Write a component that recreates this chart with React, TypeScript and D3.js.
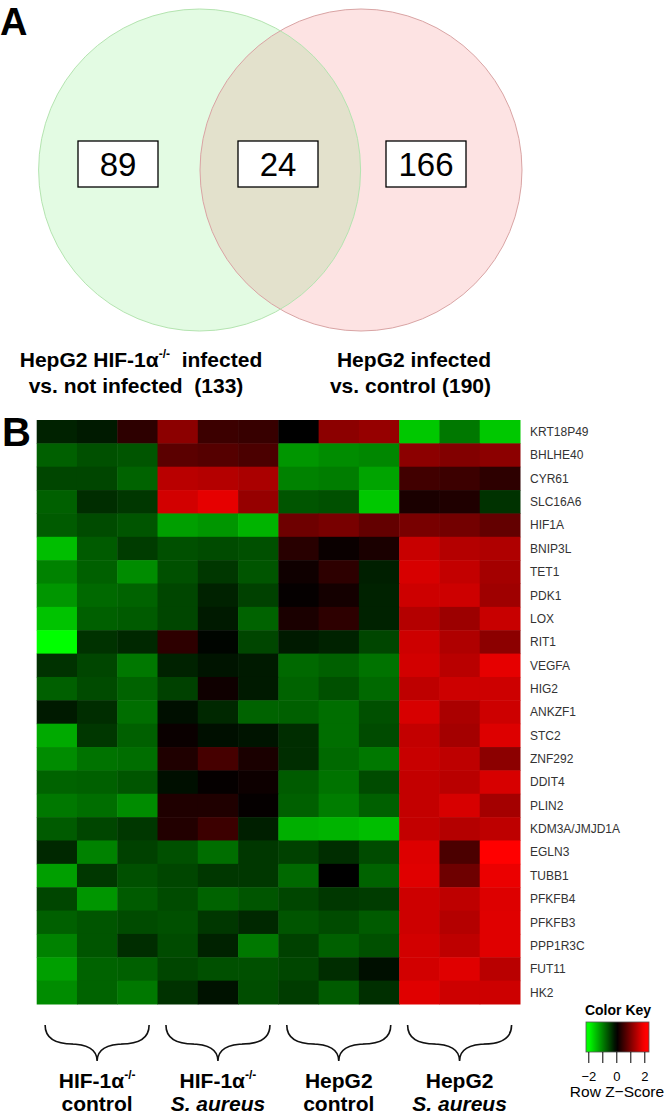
import React from "react";
import * as d3 from "d3";

const genes = [
  "KRT18P49", "BHLHE40", "CYR61", "SLC16A6", "HIF1A", "BNIP3L", "TET1", "PDK1", "LOX", "RIT1",
  "VEGFA", "HIG2", "ANKZF1", "STC2", "ZNF292", "DDIT4", "PLIN2", "KDM3A/JMJD1A", "EGLN3", "TUBB1",
  "PFKFB4", "PFKFB3", "PPP1R3C", "FUT11", "HK2",
];

const samples = [
  "KO_ctrl_1", "KO_ctrl_2", "KO_ctrl_3",
  "KO_sa_1", "KO_sa_2", "KO_sa_3",
  "WT_ctrl_1", "WT_ctrl_2", "WT_ctrl_3",
  "WT_sa_1", "WT_sa_2", "WT_sa_3",
];

// Row Z-scores, one row per gene, columns in sample order
const zScores = [
  [-0.27, -0.2, 0.35, 1.1, 0.47, 0.43, 0.0, 1.1, 1.18, -1.57, -0.94, -1.57],
  [-0.75, -0.63, -0.67, 0.71, 0.67, 0.59, -1.18, -1.1, -1.06, 1.1, 1.02, 1.1],
  [-0.55, -0.55, -0.78, 1.45, 1.41, 1.33, -1.02, -0.98, -1.29, 0.51, 0.47, 0.35],
  [-0.75, -0.35, -0.43, 1.65, 1.8, 1.18, -0.67, -0.63, -1.57, 0.2, 0.24, -0.39],
  [-0.71, -0.59, -0.67, -1.25, -1.18, -1.41, 0.86, 0.94, 0.78, 0.94, 0.9, 0.78],
  [-1.49, -0.71, -0.47, -0.63, -0.59, -0.63, 0.31, 0.08, 0.2, 1.57, 1.41, 1.37],
  [-1.02, -0.75, -1.1, -0.63, -0.43, -0.67, 0.12, 0.35, -0.24, 1.69, 1.53, 1.29],
  [-1.18, -0.82, -0.78, -0.55, -0.27, -0.51, 0.04, 0.16, -0.27, 1.61, 1.61, 1.25],
  [-1.53, -0.75, -0.71, -0.55, -0.2, -0.78, 0.2, 0.35, -0.27, 1.41, 1.22, 1.57],
  [-2.0, -0.39, -0.31, 0.35, -0.04, -0.55, -0.2, -0.27, -0.55, 1.61, 1.37, 1.1],
  [-0.39, -0.55, -0.94, -0.27, -0.16, -0.2, -0.82, -0.75, -0.9, 1.65, 1.45, 1.8],
  [-0.75, -0.59, -0.78, -0.51, 0.12, -0.2, -0.78, -0.63, -0.82, 1.49, 1.61, 1.61],
  [-0.2, -0.35, -0.86, -0.12, -0.31, -0.78, -0.75, -0.86, -0.63, 1.69, 1.33, 1.61],
  [-1.33, -0.43, -0.75, 0.08, -0.12, -0.16, -0.35, -0.86, -0.59, 1.53, 1.29, 1.73],
  [-1.1, -0.9, -0.86, 0.24, 0.55, 0.2, -0.35, -0.82, -0.94, 1.57, 1.49, 1.1],
  [-0.78, -0.75, -0.67, -0.12, 0.04, 0.1, -0.71, -0.9, -0.59, 1.53, 1.45, 1.69],
  [-0.94, -0.86, -1.1, 0.24, 0.24, 0.04, -0.75, -0.98, -0.75, 1.53, 1.69, 1.29],
  [-0.71, -0.55, -0.43, 0.27, 0.47, -0.24, -1.37, -1.41, -1.49, 1.53, 1.41, 1.49],
  [-0.31, -1.02, -0.51, -0.63, -0.86, -0.43, -0.51, -0.35, -0.59, 1.73, 0.59, 2.0],
  [-1.25, -0.43, -0.63, -0.55, -0.43, -0.43, -0.82, 0.0, -0.78, 1.76, 0.86, 1.84],
  [-0.55, -1.18, -0.71, -0.59, -0.78, -0.67, -0.55, -0.43, -0.47, 1.61, 1.49, 1.73],
  [-0.75, -0.67, -0.59, -0.63, -0.43, -0.31, -0.67, -0.59, -0.71, 1.61, 1.41, 1.76],
  [-1.02, -0.67, -0.35, -0.59, -0.27, -0.94, -0.51, -0.75, -0.63, 1.65, 1.49, 1.76],
  [-1.25, -0.78, -0.75, -0.55, -0.63, -0.63, -0.55, -0.35, -0.12, 1.65, 1.76, 1.45],
  [-1.1, -0.78, -0.94, -0.39, -0.14, -0.6, -0.47, -0.71, -0.37, 1.76, 1.61, 1.61],
];

const groupLine1 = ["HIF-1α", "HIF-1α", "HepG2", "HepG2"];
const groupSup = ["-/-", "-/-", "", ""];
const groupLine2 = ["control", "S. aureus", "control", "S. aureus"];
const groupItalic = [false, true, false, true];

const vennCounts = [89, 24, 166];
const vennTotals = [133, 190];
const keyTicks = [-2, -1, 0, 1, 2];
const keyTickLabels = [-2, 0, 2];

const FONT = "'Liberation Sans', Arial, sans-serif";

export default function App() {
  const W = 666;
  const H = 1114;

  const hmLeft = 36.7;
  const hmRight = 520;
  const hmTop = 420;
  const hmBottom = 1004;

  const x = d3.scaleBand<string>().domain(samples).range([hmLeft, hmRight]);
  const y = d3.scaleBand<string>().domain(genes).range([hmTop, hmBottom]);
  const color = d3
    .scaleLinear<string>()
    .domain([-2, 0, 2])
    .range(["#00ff00", "#000000", "#ff0000"])
    .clamp(true);

  const groupWidth = (hmRight - hmLeft) / 4;
  const groupCenters = [0, 1, 2, 3].map((g) => hmLeft + (g + 0.5) * groupWidth);

  // Venn geometry
  const r = 161;
  const cy = 170;
  const cxL = 199.6;
  const cxR = 361;
  const boxW = 80;
  const boxH = 46;
  const boxY = 164;
  const boxXs = [118, 278, 426];

  // color key
  const keyX = d3.scaleLinear().domain([-2.2, 2.3]).range([586, 649]);
  const keyTop = 1022;
  const keyBottom = 1052;

  const brace = (cx: number) => {
    const w = 52;
    const y0 = 1025;
    const y1 = 1044;
    const y2 = 1061;
    const rr = 14;
    return [
      `M${cx - w},${y0}`,
      `Q${cx - w},${y1} ${cx - w + rr * 2},${y1}`,
      `L${cx - rr * 2},${y1}`,
      `Q${cx},${y1} ${cx},${y2}`,
      `Q${cx},${y1} ${cx + rr * 2},${y1}`,
      `L${cx + w - rr * 2},${y1}`,
      `Q${cx + w},${y1} ${cx + w},${y0}`,
    ].join(" ");
  };

  return (
    <div style={{ position: "absolute", left: 0, top: 0 }}>
      <svg width={W} height={H} viewBox={`0 0 ${W} ${H}`} style={{ display: "block", fontFamily: FONT }}>
        <defs>
          <clipPath id="clipL">
            <circle cx={cxL} cy={cy} r={r} />
          </clipPath>
          <linearGradient id="keyGrad" x1="0" x2="1" y1="0" y2="0">
            {d3.range(0, 1.0001, 0.05).map((t) => (
              <stop key={t} offset={t} stopColor={color(keyX.invert(586 + t * 63))} />
            ))}
          </linearGradient>
        </defs>
        <rect x={0} y={0} width={W} height={H} fill="#ffffff" />

        {/* Panel A */}
        <text x={0} y={35} fontSize={38} fontWeight="bold" fill="#000">A</text>
        <circle cx={cxL} cy={cy} r={r} fill="#e3fbe3" />
        <circle cx={cxR} cy={cy} r={r} fill="#fde3e3" />
        <circle cx={cxR} cy={cy} r={r} fill="#e3e1cc" clipPath="url(#clipL)" />
        <circle cx={cxR} cy={cy} r={r} fill="none" stroke="#d9a4a4" strokeWidth={1} />
        <circle cx={cxL} cy={cy} r={r} fill="none" stroke="#b4e4b0" strokeWidth={1} />
        {vennCounts.map((v, i) => (
          <g key={i}>
            <rect x={boxXs[i] - boxW / 2} y={boxY - boxH / 2} width={boxW} height={boxH} fill="#fff" stroke="#000" strokeWidth={1.3} />
            <text x={boxXs[i]} y={boxY + 12} fontSize={33} textAnchor="middle" fill="#000">{v}</text>
          </g>
        ))}
        <text x={141} y={367} fontSize={21} fontWeight="bold" textAnchor="middle" fill="#000" style={{ whiteSpace: "pre" }}>
          HepG2 HIF-1α<tspan fontSize={12} dy={-9}>-/-</tspan><tspan dy={9}>  infected</tspan>
        </text>
        <text x={136} y={393} fontSize={21} fontWeight="bold" textAnchor="middle" fill="#000" style={{ whiteSpace: "pre" }}>
          {`vs. not infected  (${vennTotals[0]})`}
        </text>
        <text x={491} y={367} fontSize={21} fontWeight="bold" textAnchor="end" fill="#000">HepG2 infected</text>
        <text x={491} y={393} fontSize={21} fontWeight="bold" textAnchor="end" fill="#000">{`vs. control (${vennTotals[1]})`}</text>

        {/* Panel B */}
        <text x={2} y={446} fontSize={40} fontWeight="bold" fill="#000">B</text>
        <g>
          {zScores.map((row, i) =>
            row.map((z, j) => (
              <rect
                key={`${i}-${j}`}
                x={x(samples[j])}
                y={y(genes[i])}
                width={x.bandwidth() + 0.5}
                height={y.bandwidth() + 0.5}
                fill={color(z)}
              />
            ))
          )}
        </g>
        {genes.map((g) => (
          <text key={g} x={530} y={(y(g) as number) + y.bandwidth() / 2 + 4.3} fontSize={12} fill="#333">{g}</text>
        ))}

        {/* braces and group labels */}
        {groupCenters.map((cx, g) => (
          <g key={g}>
            <path d={brace(cx)} fill="none" stroke="#111" strokeWidth={1.6} />
            <text x={cx} y={1088} fontSize={21} fontWeight="bold" textAnchor="middle" fill="#000">
              {groupLine1[g]}
              {groupSup[g] ? <tspan fontSize={12} dy={-9}>{groupSup[g]}</tspan> : null}
            </text>
            <text x={cx} y={1111} fontSize={21} fontWeight="bold" fontStyle={groupItalic[g] ? "italic" : "normal"} textAnchor="middle" fill="#000">
              {groupLine2[g]}
            </text>
          </g>
        ))}

        {/* color key */}
        <text x={618} y={1015} fontSize={14} fontWeight="bold" textAnchor="middle" fill="#000">Color Key</text>
        <rect x={586} y={keyTop} width={63} height={keyBottom - keyTop} fill="url(#keyGrad)" stroke="#555" strokeWidth={0.8} />
        {keyTicks.map((t) => (
          <line key={t} x1={keyX(t)} x2={keyX(t)} y1={keyBottom} y2={keyBottom + 11} stroke="#000" strokeWidth={1} />
        ))}
        {keyTickLabels.map((t) => (
          <text key={t} x={keyX(t)} y={1081} fontSize={13} textAnchor="middle" fill="#000">{t < 0 ? `−${-t}` : `${t}`}</text>
        ))}
        <text x={617} y={1097} fontSize={15.5} textAnchor="middle" fill="#000">Row Z−Score</text>
      </svg>
    </div>
  );
}
